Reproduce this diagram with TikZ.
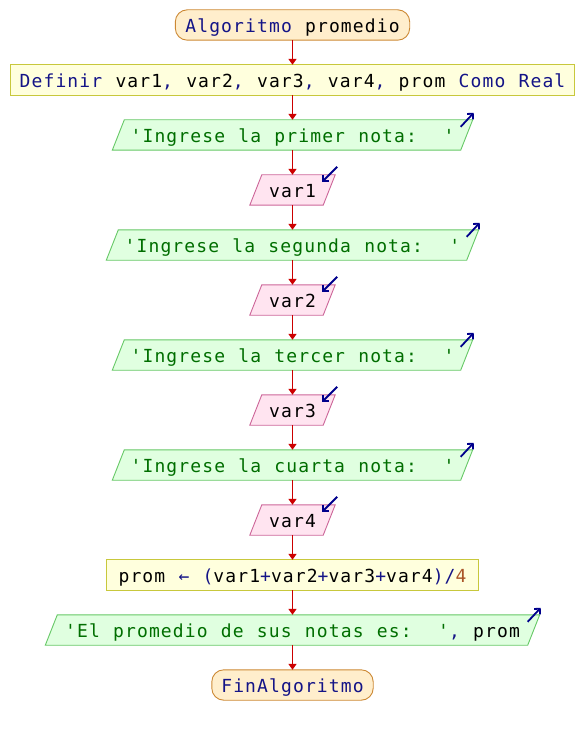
\documentclass[tikz,border=0pt]{standalone}
\usepackage{fontspec}
\setmonofont{DejaVu Sans Mono}[LetterSpace=6.2, WordSpace=1.11]
\usetikzlibrary{arrows.meta,backgrounds,calc}
\definecolor{kwc}{RGB}{20,20,135}
\definecolor{strc}{RGB}{0,110,0}
\definecolor{numc}{RGB}{170,85,40}
\definecolor{flowc}{RGB}{204,0,0}
\definecolor{iconc}{RGB}{0,0,140}
\definecolor{termfill}{RGB}{255,238,204}
\definecolor{termdraw}{RGB}{204,136,51}
\definecolor{procfill}{RGB}{255,255,221}
\definecolor{procdraw}{RGB}{200,200,60}
\definecolor{outfill}{RGB}{224,255,224}
\definecolor{outdraw}{RGB}{102,200,102}
\definecolor{infill}{RGB}{255,228,240}
\definecolor{indraw}{RGB}{204,102,153}
\newcommand\kw[1]{\textcolor{kwc}{#1}}
\newcommand\st[1]{\textcolor{strc}{#1}}
\newcommand\nm[1]{\textcolor{numc}{#1}}
\tikzset{
  basebox/.style={font=\ttfamily\fontsize{18}{20}\selectfont, text=black,
    inner xsep=0pt, inner ysep=0pt, text height=14.6pt, text depth=0pt,
    minimum height=30pt},
  termshape/.style={fill=termfill, draw=termdraw, line width=0.9pt, rounded corners=12pt},
  procshape/.style={fill=procfill, draw=procdraw, line width=0.9pt},
  outshape/.style={fill=outfill, draw=outdraw, line width=0.9pt},
  inshape/.style={fill=infill, draw=indraw, line width=0.9pt},
  flow/.style={draw=flowc, line width=1.9pt, -{Triangle[length=6pt,width=8pt]}},
  icon/.style={draw=iconc, line width=1.8pt, -{Straight Barb[length=4pt,width=8pt]}}
}
\newcommand\paraout[2]{% node, style
  \draw[#2] ($(#1.south west)+(-6,0)$) -- ($(#1.north west)+(6,0)$) --
    ($(#1.north east)+(6,0)$) -- ($(#1.south east)+(-6,0)$) -- cycle;}
\begin{document}
\begin{tikzpicture}[x=1pt,y=-1pt]
\useasboundingbox (0,0) rectangle (584,735);
\node[basebox, minimum width=234pt] (s) at (292.5,25) {\kw{Algoritmo} promedio};
\node[basebox, minimum width=564pt] (d) at (292.5,80) {\kw{Definir} var1\kw{,} var2\kw{,} var3\kw{,} var4\kw{,} prom \kw{Como Real}};
\node[basebox, minimum width=348pt] (o1) at (292.5,135) {\st{'Ingrese la primer nota:\ \ '}};
\node[basebox, minimum width=73pt] (i1) at (292.5,190) {var1};
\node[basebox, minimum width=360pt] (o2) at (292.5,245) {\st{'Ingrese la segunda nota:\ \ '}};
\node[basebox, minimum width=73pt] (i2) at (292.5,300) {var2};
\node[basebox, minimum width=348pt] (o3) at (292.5,355) {\st{'Ingrese la tercer nota:\ \ '}};
\node[basebox, minimum width=73pt] (i3) at (292.5,410) {var3};
\node[basebox, minimum width=348pt] (o4) at (292.5,465) {\st{'Ingrese la cuarta nota:\ \ '}};
\node[basebox, minimum width=73pt] (i4) at (292.5,520) {var4};
\node[basebox, minimum width=372pt] (a) at (292.5,575) {prom \kw{←} \kw{(}var1\kw{+}var2\kw{+}var3\kw{+}var4\kw{)/}\nm{4}};
\node[basebox, minimum width=482pt] (of) at (292.5,630) {\st{'El promedio de sus notas es:\ \ '}\kw{,} prom};
\node[basebox, minimum width=161pt] (e) at (292.5,685) {\kw{FinAlgoritmo}};
\begin{scope}[on background layer]
  \draw[termshape] (s.south west) rectangle (s.north east);
  \draw[termshape] (e.south west) rectangle (e.north east);
  \draw[procshape] (d.south west) rectangle (d.north east);
  \draw[procshape] (a.south west) rectangle (a.north east);
  \paraout{o1}{outshape}
  \paraout{o2}{outshape}
  \paraout{o3}{outshape}
  \paraout{o4}{outshape}
  \paraout{of}{outshape}
  \paraout{i1}{inshape}
  \paraout{i2}{inshape}
  \paraout{i3}{inshape}
  \paraout{i4}{inshape}
\end{scope}
\foreach \o in {o1,o2,o3,o4,of}{
  \coordinate (\o-tail) at ($(\o.north east)+(-6,7)$);
  \coordinate (\o-tip) at ($(\o.north east)+(7,-7)$);
  \draw[icon] (\o-tail) -- (\o-tip);
}
\foreach \i in {i1,i2,i3,i4}{
  \coordinate (\i-tail) at ($(\i.north east)+(8,-8)$);
  \coordinate (\i-tip) at ($(\i.north east)+(-7,7)$);
  \draw[icon] (\i-tail) -- (\i-tip);
}
\draw[flow] (s) -- (d);
\draw[flow] (d) -- (o1);
\draw[flow] (o1) -- (i1);
\draw[flow] (i1) -- (o2);
\draw[flow] (o2) -- (i2);
\draw[flow] (i2) -- (o3);
\draw[flow] (o3) -- (i3);
\draw[flow] (i3) -- (o4);
\draw[flow] (o4) -- (i4);
\draw[flow] (i4) -- (a);
\draw[flow] (a) -- (of);
\draw[flow] (of) -- (e);
\end{tikzpicture}
\end{document}
